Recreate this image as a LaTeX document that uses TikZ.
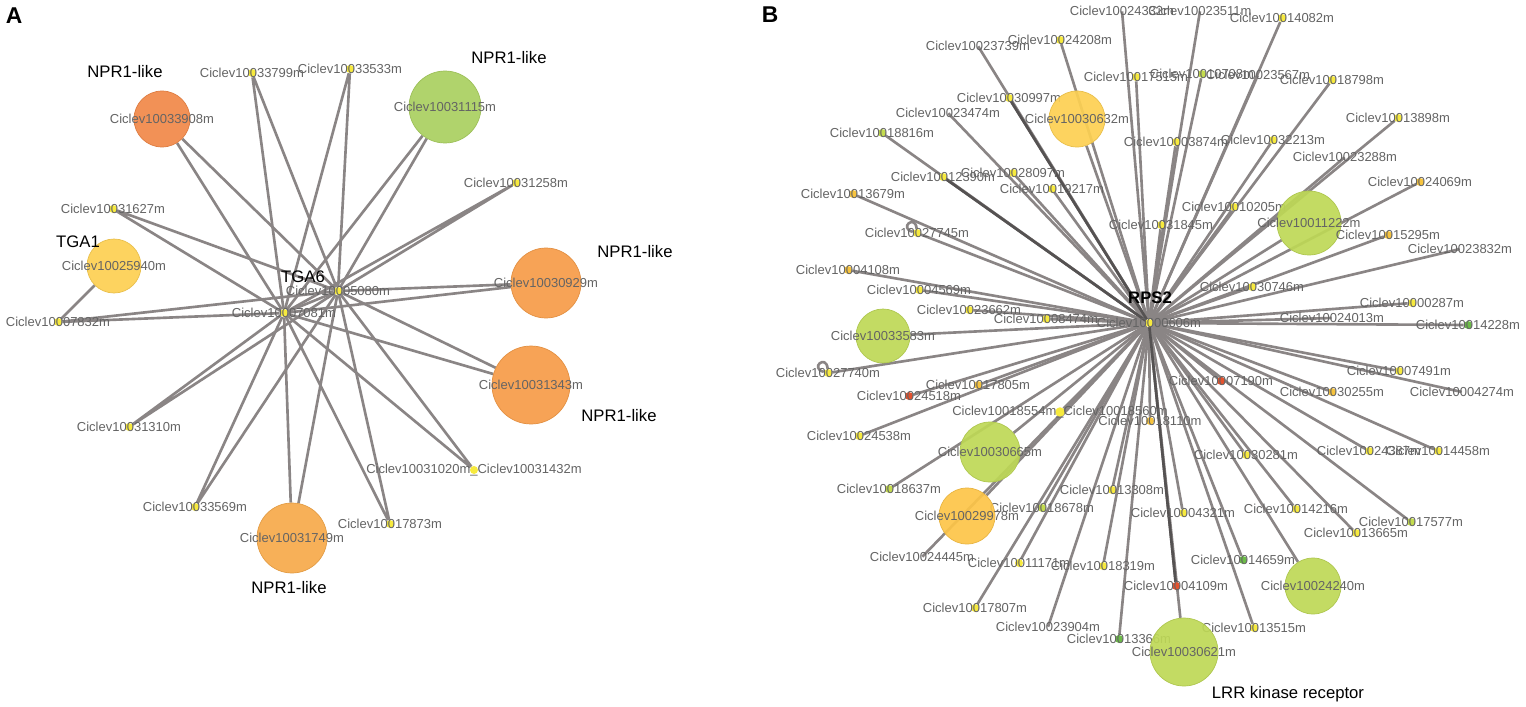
\documentclass[tikz,border=0pt]{standalone}
\usepackage{fontspec}
\setmainfont{Liberation Sans}
\usetikzlibrary{backgrounds}
\definecolor{edgegray}{RGB}{138,133,133}
\definecolor{darkedge}{RGB}{85,82,82}
\definecolor{labelgray}{RGB}{100,100,100}
\definecolor{dotY}{RGB}{247,234,62}
\definecolor{dotO}{RGB}{247,196,62}
\definecolor{dotG}{RGB}{196,220,78}
\definecolor{dotGG}{RGB}{108,188,72}
\definecolor{dotR}{RGB}{228,82,46}
\definecolor{bigGreen}{RGB}{190,216,86}
\definecolor{bigGreenA}{RGB}{170,208,96}
\definecolor{bigOrangeD}{RGB}{241,136,72}
\definecolor{bigOrange}{RGB}{247,156,72}
\definecolor{bigOrangeL}{RGB}{247,170,74}
\definecolor{bigYellow}{RGB}{253,208,82}
\definecolor{bigYellowO}{RGB}{253,197,72}
\tikzset{
  lbl/.style={font=\fontsize{7.4}{8}\selectfont, text=labelgray, inner sep=0pt},
  cl/.style={label={[lbl]center:Ciclev#1m}},
  dot/.style={circle, inner sep=0pt, minimum size=0.16cm},
  ydot/.style={dot, fill=dotY},
  odot/.style={dot, fill=dotO},
  gdot/.style={dot, fill=dotG},
  ggdot/.style={dot, fill=dotGG},
  rdot/.style={dot, fill=dotR},
  nodot/.style={inner sep=0pt, minimum size=0pt},
  big/.style={circle, inner sep=0pt, fill=#1, draw=#1!92!black, line width=0.4pt, fill opacity=0.92},
  edge/.style={draw=edgegray, line width=1.5pt},
  gene/.style={font=\fontsize{9.5}{11}\selectfont, inner sep=0pt},
  panel/.style={font=\bfseries\fontsize{13}{15}\selectfont, inner sep=0pt},
}
\begin{document}
\begin{tikzpicture}[x=0.02cm, y=-0.02cm]
  \useasboundingbox (0,0) rectangle (1526,707);
  % panel A
  \node[panel] (pA) at (14,16) {A};
  \node[ydot, cl=10007081] (hA1) at (284,313) {};
  \node[ydot, cl=10005080] (hA2) at (338,291) {};
  \node[gene] (tga6) at (303,277) {TGA6};
  \node[big=bigOrangeD, minimum size=1.12cm, cl=10033908] (a1) at (162,119) {};
  \node[ydot, cl=10033799] (a2) at (252,73) {};
  \node[ydot, cl=10033533] (a3) at (350,69) {};
  \node[big=bigGreenA, minimum size=1.44cm, cl=10031115] (a4) at (445,107) {};
  \node[ydot, cl=10031258] (a5) at (516,183) {};
  \node[big=bigOrange, minimum size=1.40cm, cl=10030929] (a6) at (546,283) {};
  \node[big=bigOrange, minimum size=1.56cm, cl=10031343] (a7) at (531,385) {};
  \node[ydot, cl=10031020m\_Ciclev10031432] (a8) at (474,470) {};
  \node[ydot, cl=10017873] (a9) at (390,524) {};
  \node[big=bigOrangeL, minimum size=1.40cm, cl=10031749] (a10) at (292,538) {};
  \node[ydot, cl=10033569] (a11) at (195,507) {};
  \node[ydot, cl=10031310] (a12) at (129,427) {};
  \node[ydot, cl=10007832] (a13) at (58,322) {};
  \node[ydot, cl=10031627] (a14) at (113,209) {};
  \node[big=bigYellow, minimum size=1.08cm, cl=10025940] (a15) at (114,266) {};
  \node[gene] (npr1) at (125,72) {NPR1-like};
  \node[gene] (npr2) at (509,58) {NPR1-like};
  \node[gene] (npr3) at (635,252) {NPR1-like};
  \node[gene] (npr4) at (619,416) {NPR1-like};
  \node[gene] (npr5) at (289,588) {NPR1-like};
  \node[gene] (tga1) at (78,242) {TGA1};
  % panel B
  \node[panel] (pB) at (770,15) {B};
  \node[ydot, cl=10000606] (hB) at (1149,323) {};
  \node[gene, font=\bfseries\fontsize{9.5}{11}\selectfont] (rps2) at (1150,298) {RPS2};
  \node[nodot, cl=10024332] (b1) at (1122,11) {};
  \node[nodot, cl=10023511] (b2) at (1200,11) {};
  \node[ydot, cl=10014082] (b3) at (1282,18) {};
  \node[nodot, cl=10023739] (b4) at (978,46) {};
  \node[ydot, cl=10024208] (b5) at (1060,40) {};
  \node[ydot, cl=10017515] (b6) at (1136,77) {};
  \node[gdot, cl=10010708] (b7) at (1202,74) {};
  \node[nodot, cl=10023567] (b8) at (1258,75) {};
  \node[ydot, cl=10018798] (b9) at (1332,80) {};
  \node[ydot, cl=10030997] (b10) at (1009,98) {};
  \node[big=bigYellow, minimum size=1.12cm, cl=10030632] (b11) at (1077,119) {};
  \node[nodot, cl=10023474] (b12) at (948,113) {};
  \node[gdot, cl=10018816] (b13) at (882,133) {};
  \node[ydot, cl=10003874] (b14) at (1176,142) {};
  \node[ydot, cl=10032213] (b15) at (1273,140) {};
  \node[ydot, cl=10013898] (b16) at (1398,118) {};
  \node[nodot, cl=10023288] (b17) at (1345,157) {};
  \node[ydot, cl=10028097] (b18) at (1013,173) {};
  \node[ydot, cl=10012390] (b19) at (943,177) {};
  \node[ydot, cl=10019217] (b20) at (1052,189) {};
  \node[odot, cl=10013679] (b21) at (853,194) {};
  \node[odot, cl=10024069] (b22) at (1420,182) {};
  \node[ydot, cl=10010205] (b23) at (1234,207) {};
  \node[big=bigGreen, minimum size=1.28cm, cl=10011222] (b24) at (1309,223) {};
  \node[ydot, cl=10031845] (b25) at (1161,225) {};
  \node[odot, cl=10015295] (b26) at (1388,235) {};
  \node[ydot, cl=10027745] (b27) at (917,233) {};
  \node[nodot, cl=10023832] (b28) at (1460,249) {};
  \node[odot, cl=10004108] (b29) at (848,270) {};
  \node[ydot, cl=10030746] (b30) at (1252,287) {};
  \node[ydot, cl=10004569] (b31) at (919,290) {};
  \node[ydot, cl=10000287] (b32) at (1412,303) {};
  \node[ydot, cl=10023662] (b33) at (969,310) {};
  \node[ydot, cl=10008474] (b34) at (1046,319) {};
  \node[nodot, cl=10024013] (b35) at (1332,318) {};
  \node[ggdot, cl=10014228] (b36) at (1468,325) {};
  \node[big=bigGreen, minimum size=1.08cm, cl=10033583] (b37) at (883,336) {};
  \node[ydot, cl=10027740] (b38) at (828,373) {};
  \node[odot, cl=10017805] (b39) at (978,385) {};
  \node[rdot, cl=10007190] (b40) at (1221,381) {};
  \node[ydot, cl=10007491] (b41) at (1399,371) {};
  \node[rdot, cl=10024518] (b42) at (909,396) {};
  \node[odot, cl=10030255] (b43) at (1332,392) {};
  \node[nodot, cl=10004274] (b44) at (1462,392) {};
  \node[ydot, minimum size=0.19cm, cl=10018554m\_Ciclev10018560] (b45) at (1060,412) {};
  \node[odot, cl=10018110] (b46) at (1150,421) {};
  \node[ydot, cl=10024538] (b47) at (859,436) {};
  \node[big=bigGreen, minimum size=1.20cm, cl=10030665] (b48) at (990,452) {};
  \node[ydot, cl=10030281] (b49) at (1246,455) {};
  \node[ydot, cl=10024387] (b50) at (1369,451) {};
  \node[ydot, cl=10014458] (b51) at (1438,451) {};
  \node[gdot, cl=10018637] (b52) at (889,489) {};
  \node[ydot, cl=10013308] (b53) at (1112,490) {};
  \node[gdot, cl=10018678] (b54) at (1042,508) {};
  \node[big=bigYellowO, minimum size=1.12cm, cl=10029978] (b55) at (967,516) {};
  \node[ydot, cl=10004321] (b56) at (1183,513) {};
  \node[ydot, cl=10014216] (b57) at (1296,509) {};
  \node[gdot, cl=10017577] (b58) at (1411,522) {};
  \node[ydot, cl=10013665] (b59) at (1356,533) {};
  \node[nodot, cl=10024445] (b60) at (922,557) {};
  \node[ydot, cl=10011171] (b61) at (1019,563) {};
  \node[ydot, cl=10018319] (b62) at (1103,566) {};
  \node[ggdot, cl=10014659] (b63) at (1243,560) {};
  \node[rdot, cl=10004109] (b64) at (1176,586) {};
  \node[big=bigGreen, minimum size=1.12cm, cl=10024240] (b65) at (1313,586) {};
  \node[ydot, cl=10017807] (b66) at (975,608) {};
  \node[nodot, cl=10023904] (b67) at (1048,627) {};
  \node[ggdot, cl=10013366] (b68) at (1119,639) {};
  \node[ydot, cl=10013515] (b69) at (1254,628) {};
  \node[big=bigGreen, minimum size=1.36cm, cl=10030621] (b70) at (1184,652) {};
  \node[gene] (lrr) at (1288,694) {LRR kinase receptor};
  % connectors
  \begin{pgfonlayer}{background}
    \fill[white] (0,0) rectangle (1526,707);
    \foreach \n in {a1,a2,a3,a4,a5,a6,a7,a8,a9,a10,a11,a12,a13,a14}
      \draw[edge] (hA1) -- (\n) (hA2) -- (\n);
    \draw[edge] (hA1) -- (hA2);
    \draw[edge] (a13) -- (a15);
    \foreach \i in {1,...,70}
      \draw[edge] (hB) -- (b\i);
    \foreach \i in {10,19,64}
      \draw[edge, draw=darkedge] (hB) -- (b\i);
    \draw[edge] (b27) to[loop, out=165, in=95, min distance=0.3cm] (b27);
    \draw[edge] (b38) to[loop, out=165, in=95, min distance=0.3cm] (b38);
  \end{pgfonlayer}
\end{tikzpicture}
\end{document}
